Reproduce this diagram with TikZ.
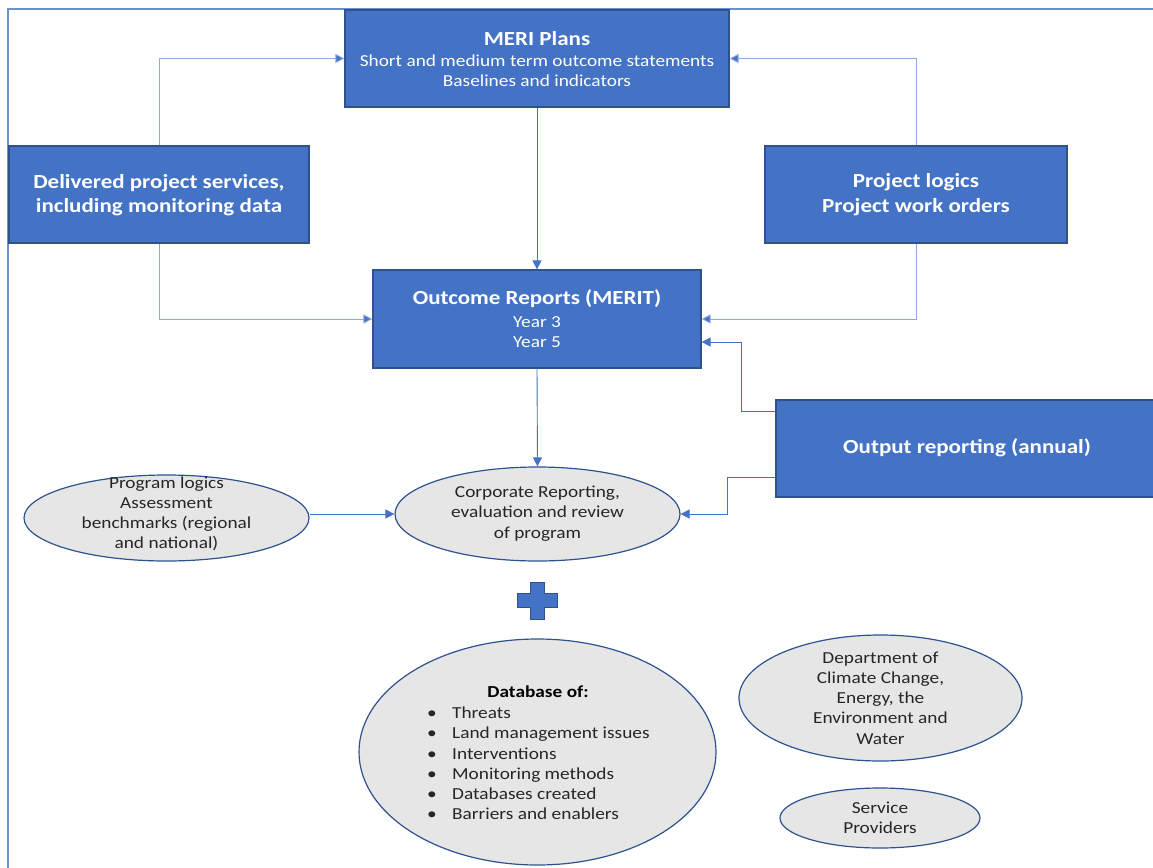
\documentclass[tikz,border=0pt]{standalone}
\usepackage{fontspec}
\setmainfont[FakeStretch=1.15]{Carlito}
\usetikzlibrary{arrows.meta,shapes.geometric,calc}
\definecolor{boxblue}{HTML}{4472C4}
\definecolor{boxedge}{HTML}{2F528F}
\definecolor{linelight}{HTML}{8FAADC}
\definecolor{framecol}{HTML}{6A90D2}
\definecolor{ellfill}{HTML}{E6E6E6}
\definecolor{ellText}{HTML}{262626}
\tikzset{
  bluebox/.style={draw=boxedge, line width=1.2pt, fill=boxblue, inner sep=0pt},
  boxtitle/.style={text=white, inner sep=0pt, align=center, font=\fontsize{20}{24}\selectfont\bfseries},
  boxsmall/.style={text=white, inner sep=0pt, align=center, font=\fontsize{16.8}{20}\selectfont},
  ellshape/.style={ellipse, draw=boxedge, line width=1.2pt, fill=ellfill, inner sep=0pt},
  elltext/.style={text=ellText, align=center, inner sep=0pt, font=\fontsize{16.8}{20.2}\selectfont},
  conn/.style={draw=boxblue, line width=0.9pt, -{Triangle[length=9pt,width=9pt]}},
  connlight/.style={draw=linelight, line width=0.9pt, -{Triangle[length=9pt,width=9pt,fill=boxblue]}},
}
\begin{document}
\begin{tikzpicture}[x=1pt,y=-1pt]
\useasboundingbox (0,0) rectangle (1153,867);
% frame
\draw[framecol, line width=1.5pt] (8,870) -- (8,9) -- (1160,9);
% boxes
\node[bluebox, minimum width=384, minimum height=97] (meri) at (537,58.5) {};
\node[boxtitle] (meri1) at (537,39) {MERI Plans};
\node[boxsmall] (meri2) at (537,61) {Short and medium term outcome statements};
\node[boxsmall] (meri3) at (537,81) {Baselines and indicators};
\node[bluebox, minimum width=300, minimum height=97] (deliv) at (159,194.5) {};
\node[boxtitle] (deliv1) at (159,183) {Delivered project services,};
\node[boxtitle] (deliv2) at (159,207) {including monitoring data};
\node[bluebox, minimum width=302, minimum height=97] (plog) at (916,194.5) {};
\node[boxtitle] (plog1) at (916,182) {Project logics};
\node[boxtitle] (plog2) at (916,207) {Project work orders};
\node[bluebox, minimum width=328, minimum height=98] (outc) at (537,319) {};
\node[boxtitle] (outc1) at (537,299) {Outcome Reports (MERIT)};
\node[boxsmall] (outc2) at (537,322) {Year 3};
\node[boxsmall] (outc3) at (537,342) {Year 5};
\node[bluebox, minimum width=390, minimum height=97] (outrep) at (971,448.5) {};
\node[boxtitle] (outreptxt) at (967,448) {Output reporting (annual)};
% ellipses
\node[ellshape, minimum width=285, minimum height=86] (prog) at (166.5,518) {};
\node[elltext] (progtxt) at (166.5,514) {Program logics\\Assessment\\benchmarks (regional\\and national)};
\node[ellshape, minimum width=285, minimum height=94] (corp) at (537.5,514) {};
\node[elltext] (corptxt) at (537.5,513.5) {Corporate Reporting,\\evaluation and review\\of program};
\node[ellshape, minimum width=357, minimum height=226] (db) at (537.5,752) {};
\node[elltext, font=\fontsize{16.8}{20.2}\selectfont\bfseries, text=black] (dbtitle) at (538,692) {Database of:};
\node[elltext, align=left, anchor=west] (dblist) at (427,763.5) {%
\makebox[25pt][l]{\textbullet}Threats\\
\makebox[25pt][l]{\textbullet}Land management issues\\
\makebox[25pt][l]{\textbullet}Interventions\\
\makebox[25pt][l]{\textbullet}Monitoring methods\\
\makebox[25pt][l]{\textbullet}Databases created\\
\makebox[25pt][l]{\textbullet}Barriers and enablers};
\node[ellshape, minimum width=283, minimum height=126] (dept) at (880.5,698) {};
\node[elltext] (depttxt) at (880.5,698) {Department of\\Climate Change,\\Energy, the\\Environment and\\Water};
\node[ellshape, minimum width=200, minimum height=60] (serv) at (880,818) {};
\node[elltext] (servtxt) at (880,818) {Service\\Providers};
% plus sign
\fill[boxblue, draw=boxedge, line width=0.8pt] (530,582) -- (544,582) -- (544,593) -- (557,593) -- (557,607) -- (544,607) -- (544,619) -- (530,619) -- (530,607) -- (517,607) -- (517,593) -- (530,593) -- cycle;
% connectors
\draw[connlight] (deliv.north) |- (meri.west);
\draw[connlight] (plog.north) |- (meri.east);
\draw[conn] (meri.south) -- (outc.north);
\draw[connlight] (deliv.south) |- (outc.west);
\draw[connlight] (plog.south) |- (outc.east);
\draw[conn] ([yshift=-12pt]outrep.north west) -- ++(-34,0) |- ([yshift=-23pt]outc.east);
\draw[conn] ([yshift=20pt]outrep.south west) -- ++(-48,0) |- (corp.east);
\draw[conn] (outc.south) -- (corp.north);
\draw[conn] ([yshift=4pt]prog.east) -- (corp.west);
\end{tikzpicture}
\end{document}
